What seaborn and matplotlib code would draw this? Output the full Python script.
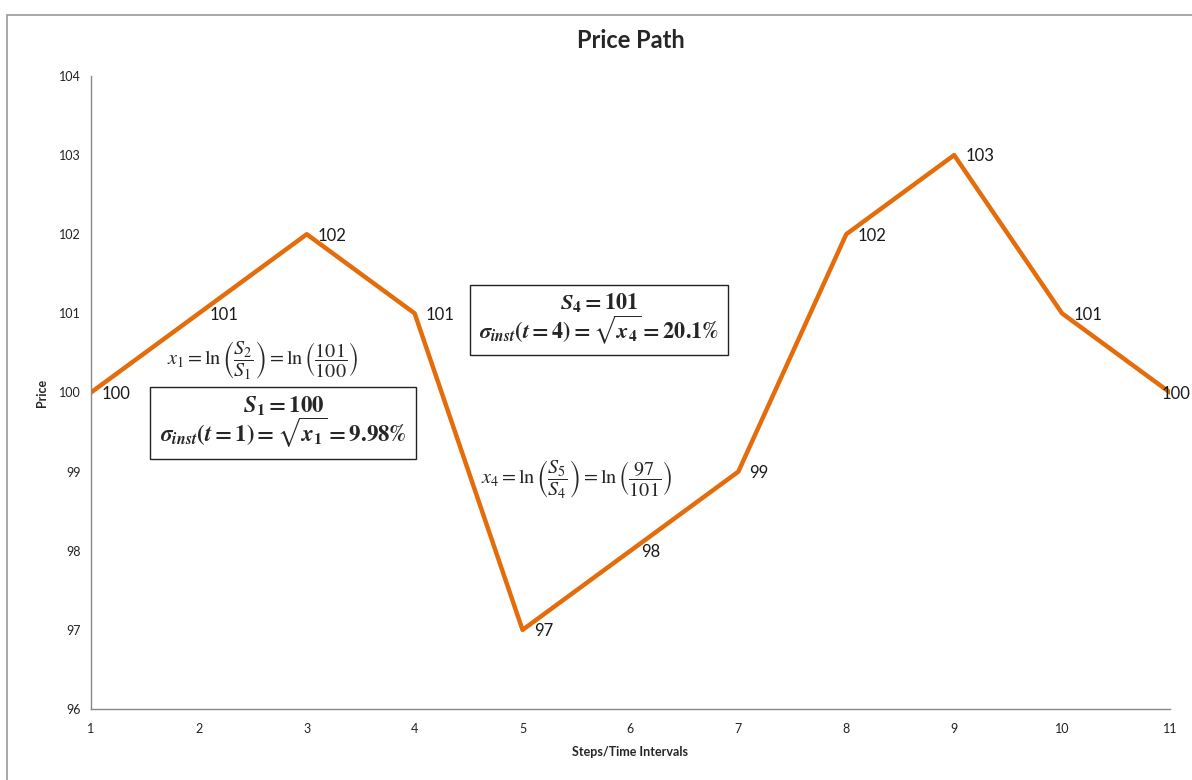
import numpy as np
import pandas as pd
import seaborn as sns
import matplotlib.pyplot as plt
from matplotlib.patches import Rectangle

steps = [1, 2, 3, 4, 5, 6, 7, 8, 9, 10, 11]
price = [100, 101, 102, 101, 97, 98, 99, 102, 103, 101, 100]

df = pd.DataFrame({"step": steps, "price": price})

sns.set_style("white")
plt.rcParams["font.family"] = ["Lato", "DejaVu Sans"]
plt.rcParams["mathtext.fontset"] = "stix"

fig = plt.figure(figsize=(11.92, 7.8), dpi=100)
ax = fig.add_axes([0.0763, 0.091, 0.9052, 0.8116])

sns.lineplot(data=df, x="step", y="price", color="#E46C0A", linewidth=3.2, ax=ax)

# data labels to the right of each point (last one pulled in so it fits)
for s, p in zip(steps, price):
    dx = 8 if s < steps[-1] else -6
    ax.annotate(str(p), (s, p), xytext=(dx, -1), textcoords="offset points",
                ha="left", va="center", fontsize=12, color="#1a1a1a")

ax.set_xlim(1, 11)
ax.set_ylim(96, 104)
ax.set_xticks(steps)
ax.set_yticks(range(96, 105))
ax.tick_params(axis="both", direction="out", length=4, width=1, color="#888888",
               labelsize=9, labelcolor="#222222")
ax.tick_params(axis="x", pad=6)
for side in ["top", "right"]:
    ax.spines[side].set_visible(False)
for side in ["left", "bottom"]:
    ax.spines[side].set_color("#888888")
    ax.spines[side].set_linewidth(1)

ax.set_xlabel("Steps/Time Intervals", fontsize=9, fontweight="bold", labelpad=8)
ax.set_ylabel("Price", fontsize=9, fontweight="bold", labelpad=8)
ax.set_title("Price Path", fontsize=17, fontweight="bold", pad=20)

# formulas and boxes
ax.text(2.594, 100.41, r"$x_1 = \ln\left(\dfrac{S_2}{S_1}\right) = \ln\left(\dfrac{101}{100}\right)$",
        ha="center", va="center", fontsize=14.5)
ax.text(5.504, 98.907, r"$x_4 = \ln\left(\dfrac{S_5}{S_4}\right) = \ln\left(\dfrac{97}{101}\right)$",
        ha="center", va="center", fontsize=14.5)

box = dict(boxstyle="square,pad=0.42", facecolor="white", edgecolor="#222222", linewidth=1)
ax.text(2.784, 99.63,
        r"$\mathbfit{S}_\mathbf{1} \mathbf{= 100}$" "\n"
        r"$\mathbfit{\sigma}_{\mathbfit{inst}}\mathbf{(}\mathbfit{t}\mathbf{=1) =} \sqrt{\mathbfit{x}_\mathbf{1}} \mathbf{= 9.98\%}$",
        ha="center", va="center", fontsize=16.5, linespacing=0.95, bbox=box)
ax.text(5.708, 100.935,
        r"$\mathbfit{S}_\mathbf{4} \mathbf{= 101}$" "\n"
        r"$\mathbfit{\sigma}_{\mathbfit{inst}}\mathbf{(}\mathbfit{t}\mathbf{=4) =} \sqrt{\mathbfit{x}_\mathbf{4}} \mathbf{= 20.1\%}$",
        ha="center", va="center", fontsize=16, linespacing=0.95, bbox=box)

fig.patches.append(Rectangle((0.006, -0.01), 0.996, 0.991, transform=fig.transFigure,
                             fill=False, edgecolor="#999999", linewidth=1.2))

fig.savefig("out.png", dpi=100)
